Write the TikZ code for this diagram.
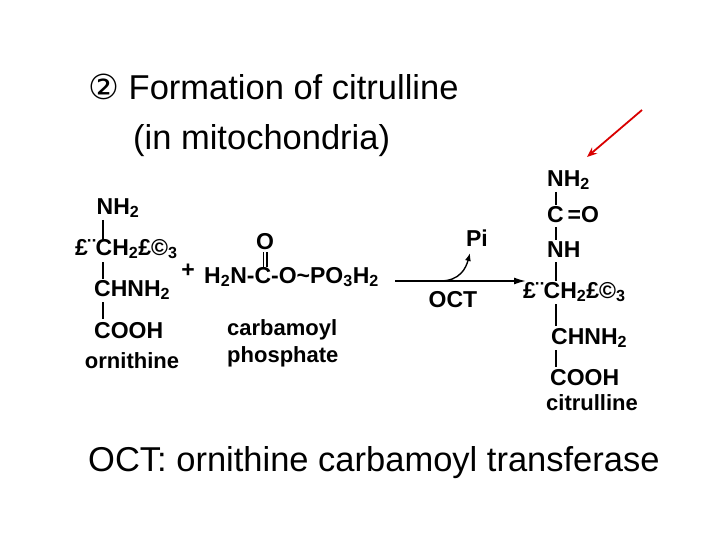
\documentclass[tikz,border=0pt]{standalone}
\usepackage{fontspec}
\setmainfont{Liberation Sans}
\newfontfamily\dejavu{DejaVu Sans}
\usetikzlibrary{arrows.meta}
\newcommand{\sbs}[1]{\textsubscript{#1}}
\begin{document}
\begin{tikzpicture}[x=1pt,y=-1pt,
  chem/.style={font=\bfseries\fontsize{23}{24}\selectfont, inner sep=0pt},
  lbl/.style={font=\bfseries\fontsize{22}{24}\selectfont, inner sep=0pt},
  big/.style={font=\fontsize{34.5}{36}\selectfont, inner sep=0pt, anchor=west},
  bond/.style={line width=1.6pt}]
\useasboundingbox (0,0) rectangle (720,540);
\node[big] (t1) at (88,87) {{\dejavu ②} Formation of citrulline};
\node[big] (t2) at (133,141) {(in mitochondria)};
% ornithine
\node[chem] (o1) at (118,208) {NH\sbs{2}};
\node[chem,anchor=west] (o2) at (75,249) {£¨CH\sbs{2}£©\sbs{3}};
\node[chem,anchor=west] (o3) at (94,290) {CHNH\sbs{2}};
\node[chem,anchor=west] (o4) at (94,331) {COOH};
\node[lbl] (on) at (132,361) {ornithine};
\draw[bond] (103,220) -- (103,240);
\draw[bond] (103,262) -- (103,279);
\draw[bond] (103,302) -- (103,319);
\node[chem] (plus) at (188,271) {+};
% carbamoyl phosphate
\node[chem,anchor=west] (cp) at (204,277) {H\sbs{2}N-C-O\textasciitilde PO\sbs{3}H\sbs{2}};
\node[chem] (co) at (265,242) {O};
\draw[line width=1.2pt] (263.5,252) -- (263.5,267) (267,252) -- (267,267);
\node[lbl,anchor=west] (cpl1) at (227,330) {carbamoyl};
\node[lbl,anchor=west] (cpl2) at (227,357) {phosphate};
% reaction arrow
\coordinate (a1) at (395,281);
\coordinate (a2) at (526,281);
\draw[line width=1.6pt,-{Latex[length=12pt,width=7pt]}] (a1) -- (a2);
\node[chem] (pi) at (477,238) {Pi};
\draw[line width=1.4pt,-{Latex[length=8pt,width=6pt]}] (440,281) .. controls (460,281) and (466,268) .. (470,253);
\node[chem] (oct) at (453,300) {OCT};
% citrulline
\node[chem,anchor=west] (c1) at (547,180) {NH\sbs{2}};
\node[chem,anchor=west] (c2) at (547,215) {C\,=O};
\node[chem,anchor=west] (c3) at (547,250) {NH};
\node[chem,anchor=west] (c4) at (523,292) {£¨CH\sbs{2}£©\sbs{3}};
\node[chem,anchor=west] (c5) at (551,338) {CHNH\sbs{2}};
\node[chem,anchor=west] (c6) at (550,378) {COOH};
\node[lbl] (cn) at (592,403) {citrulline};
\draw[bond] (556,192) -- (556,205);
\draw[bond] (556,227) -- (556,240);
\draw[bond] (556,262) -- (556,281);
\draw[bond] (556,304) -- (556,326);
\draw[bond] (556,350) -- (556,367);
\coordinate (r1) at (642,110);
\coordinate (r2) at (587,157);
\draw[red!85!black,line width=1.8pt,-{Stealth[length=10pt,width=8pt]}] (r1) -- (r2);
\node[big] (bt) at (88,463) {OCT: ornithine carbamoyl transferase};
\end{tikzpicture}
\end{document}
